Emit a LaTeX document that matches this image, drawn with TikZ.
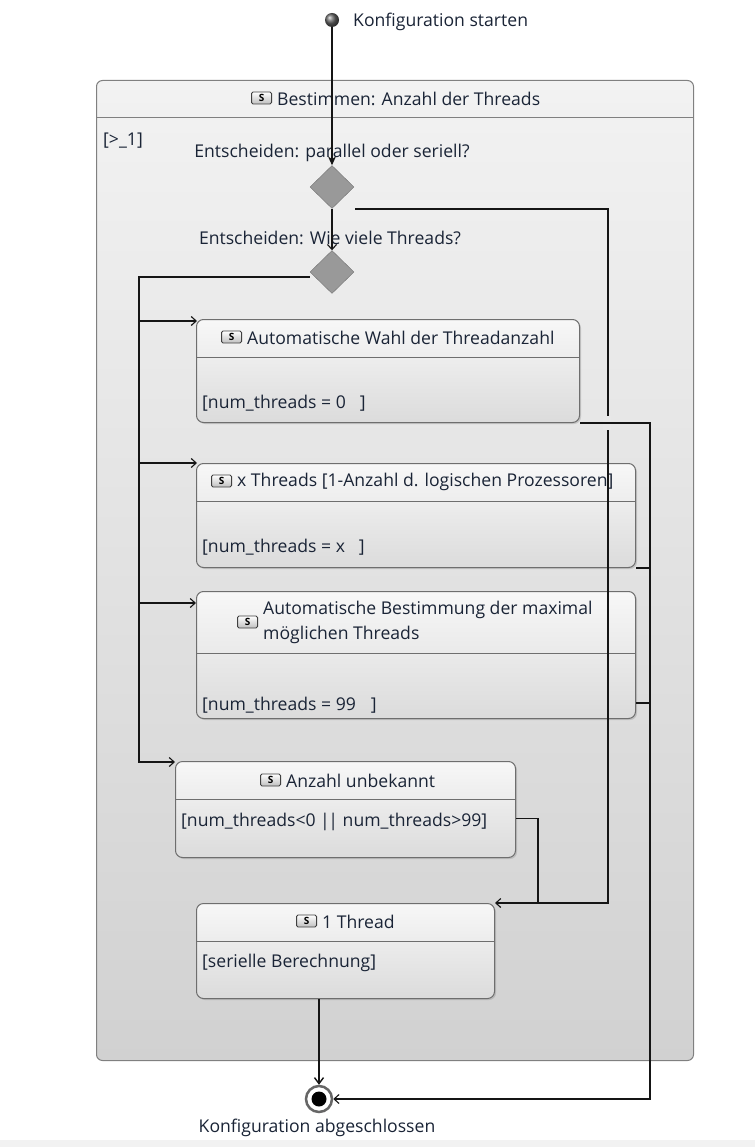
\documentclass[tikz,border=0pt]{standalone}
\usepackage{fontspec}
\setmainfont{Open Sans}
\usetikzlibrary{arrows.meta,shapes.geometric,shadows,calc}
\definecolor{ink}{HTML}{1A2436}
\definecolor{edge}{HTML}{6E6E6E}
\definecolor{wirecol}{HTML}{151515}

\tikzset{
  lbl/.style={text=ink, inner sep=0pt},
  boxbase/.style={draw=edge, line width=1pt, rounded corners=7pt,
    top color=black!3, bottom color=black!14, anchor=north west, inner sep=0pt},
  state/.style={boxbase, drop shadow={shadow xshift=1.5pt,shadow yshift=-1.5pt,opacity=0.3}},
  sep/.style={draw=edge, line width=1pt},
  sicon/.style={draw=black!75, line width=0.9pt, rounded corners=1.5pt,
    top color=white, bottom color=black!25, minimum width=20pt, minimum height=12pt,
    inner sep=0pt, font=\fontsize{10}{10}\selectfont\bfseries, anchor=east},
  choice/.style={diamond, aspect=1, draw=black!55, fill=black!40,
    minimum width=44pt, minimum height=43pt, inner sep=0pt},
  wire/.style={draw=wirecol, line width=1.1pt},
  flow/.style={wire, -{Straight Barb[length=5pt,width=9pt,line width=1.1pt]}},
}

\begin{document}
\begin{tikzpicture}[x=1pt,y=-1pt,font=\fontsize{17.6}{20}\selectfont]
\useasboundingbox (0,0) rectangle (755,1147);
\fill[white] (0,0) rectangle (755,1147);
\fill[black!5] (0,1140) rectangle (755,1147);

% composite state
\node[boxbase, draw=black!50, rounded corners=6pt, top color=black!5, bottom color=black!18,
      minimum width=597pt, minimum height=980pt] (outer) at (96,80) {};
\draw[sep, draw=black!50] ($(outer.north west)+(0,38)$) -- ($(outer.north east)+(0,38)$);
\node[lbl, anchor=west] (outerT) at (277,99) {Bestimmen: Anzahl der Threads};
\node[sicon] (outerS) at ($(outerT.west)+(-5,-1)$) {S};
\node[lbl, anchor=west] (guard) at (103,141) {[>\_1]};

% initial pseudostate
\node[circle, minimum size=14pt, inner sep=0pt, shading=ball, ball color=black!60] (init) at (332,20) {};
\node[lbl, anchor=west] (initL) at (353,22) {Konfiguration starten};

% choices
\node[lbl] (d1L) at (332,153) {Entscheiden: parallel oder seriell?};
\node[choice] (d1) at (332,187) {};
\node[lbl] (d2L) at (330,238) {Entscheiden: Wie viele Threads?};
\node[choice] (d2) at (332,272) {};

% states
\node[state, minimum width=383pt, minimum height=103pt] (b1) at (196,319) {};
\draw[sep] ($(b1.north west)+(0,38)$) -- ($(b1.north east)+(0,38)$);
\node[lbl, anchor=west] (b1T) at (247,338) {Automatische Wahl der Threadanzahl};
\node[sicon] (b1S) at ($(b1T.west)+(-5,-1)$) {S};
\node[lbl, anchor=west] (b1B) at (202,403) {[num\_threads = 0\hspace{14pt}]};

\node[state, minimum width=439pt, minimum height=104pt] (b2) at (196,463) {};
\draw[sep] ($(b2.north west)+(0,38)$) -- ($(b2.north east)+(0,38)$);
\node[lbl, anchor=west] (b2T) at (237,482) {x Threads [1-Anzahl d. logischen Prozessoren]};
\node[sicon] (b2S) at ($(b2T.west)+(-5,-1)$) {S};
\node[lbl, anchor=west] (b2B) at (202,547) {[num\_threads = x\hspace{14pt}]};

\node[state, minimum width=439pt, minimum height=127pt] (b3) at (196,591) {};
\draw[sep] ($(b3.north west)+(0,62)$) -- ($(b3.north east)+(0,62)$);
\node[lbl, anchor=west, align=left, font=\fontsize{17.6}{25}\selectfont] (b3T) at (263,622)
  {Automatische Bestimmung der maximal\\möglichen Threads};
\node[sicon] (b3S) at ($(b3T.west)+(-5,0)$) {S};
\node[lbl, anchor=west] (b3B) at (202,705) {[num\_threads = 99\hspace{15pt}]};

\node[state, minimum width=340pt, minimum height=96pt] (unk) at (175,761) {};
\draw[sep] ($(unk.north west)+(0,38)$) -- ($(unk.north east)+(0,38)$);
\node[lbl, anchor=west] (unkT) at (286,781) {Anzahl unbekannt};
\node[sicon] (unkS) at ($(unkT.west)+(-5,-1)$) {S};
\node[lbl, anchor=west] (unkB) at (181,822) {[num\_threads<0 |\kern-1.5pt| num\_threads>99]};

\node[state, minimum width=298pt, minimum height=95pt] (t1) at (196,903) {};
\draw[sep] ($(t1.north west)+(0,38)$) -- ($(t1.north east)+(0,38)$);
\node[lbl, anchor=west] (t1T) at (322,922) {1 Thread};
\node[sicon] (t1S) at ($(t1T.west)+(-5,-1)$) {S};
\node[lbl, anchor=west] (t1B) at (202,963) {[serielle Berechnung]};

% final state
\node[circle, draw=black!60, line width=2.5pt, fill=white, minimum size=26pt, inner sep=0pt] (fin) at (319,1099) {};
\node[circle, fill=black, minimum size=15pt, inner sep=0pt] (finDot) at (fin.center) {};
\node[lbl] (finL) at (317,1128) {Konfiguration abgeschlossen};

% transitions
\draw[wire, -{Stealth[length=9pt,width=8pt]}] (init) -- (d1.north);
\draw[flow] (d1.south) -- (d2.north);
\draw[flow] ($(d1.east)+(1,22)$) -| ($(t1.north east)+(113,0)$) -- (t1.north east);
\draw[wire] ($(unk.east)+(0,9)$) -| ($(t1.north east)+(43,0)$);

\coordinate (lbus) at (139,277);
\draw[flow] ($(d2.west)+(0,5)$) -| ($(unk.north west)+(-36,1)$) -- ($(unk.north west)+(0,1)$);
\draw[flow] ($(lbus |- b1.north west)+(0,2)$) -- ($(b1.north west)+(1,2)$);
\draw[flow] (lbus |- b2.north west) -- ($(b2.north west)+(1,0)$);
\draw[flow] ($(lbus |- b3.north west)+(0,12)$) -- ($(b3.north west)+(0,12)$);

% line jump where the two right-hand wires cross
\coordinate (rbus) at (650,423);
\fill[black!9] (603,416) rectangle (611,430);
\draw[flow] (b1.south east) -| (rbus |- fin.east) -- (fin.east);
\draw[wire] (b2.south east) -- (rbus |- b2.south east);
\draw[wire] ($(b3.south east)+(0,-16)$) -- (rbus |- {$(b3.south east)+(0,-16)$});
\draw[wire, -{Straight Barb[length=6pt,width=9pt,line width=1.4pt]}] (t1.south -| fin) -- (fin.north);
\end{tikzpicture}
\end{document}
